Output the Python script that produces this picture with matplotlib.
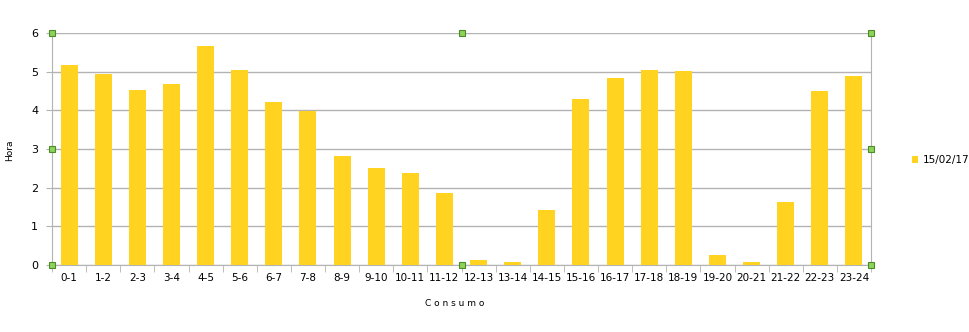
import matplotlib

matplotlib.use("Agg")
import matplotlib.pyplot as plt
import numpy as np

# hourly consumption
categories = ["0-1", "1-2", "2-3", "3-4", "4-5", "5-6", "6-7", "7-8", "8-9", "9-10",
              "10-11", "11-12", "12-13", "13-14", "14-15", "15-16", "16-17", "17-18",
              "18-19", "19-20", "20-21", "21-22", "22-23", "23-24"]
values = [5.17, 4.94, 4.53, 4.69, 5.67, 5.04, 4.22, 3.98, 2.83, 2.52,
          2.38, 1.86, 0.13, 0.08, 1.41, 4.29, 4.83, 5.04, 5.02, 0.26,
          0.08, 1.63, 4.50, 4.88]
series_label = "15/02/17"
y_ticks = [0, 1, 2, 3, 4, 5, 6]

BAR = "#ffd320"
GRID = "#b3b3b3"

fig = plt.figure(figsize=(9.69, 3.32), dpi=100)
ax = fig.add_axes([52 / 969, 1 - 265 / 332, 819 / 969, 232 / 332])

x = np.arange(len(categories))
ax.bar(x, values, width=0.5, color=BAR, zorder=3, label=series_label)

ax.set_xlim(-0.5, len(categories) - 0.5)
ax.set_ylim(0, 6)
ax.set_yticks(y_ticks)
ax.yaxis.grid(True, color=GRID, linewidth=1, zorder=0)
ax.set_xticks(x)
ax.set_xticklabels(categories, fontsize=7.5)
ax.tick_params(axis="x", length=0, pad=6)
ax.tick_params(axis="y", labelsize=8, length=4, color=GRID, pad=6)
# boundary ticks between categories
ax.set_xticks(np.arange(len(categories) + 1) - 0.5, minor=True)
ax.tick_params(axis="x", which="minor", length=5, color=GRID)

for side in ("left", "right", "bottom"):
    ax.spines[side].set_color(GRID)
ax.spines["top"].set_visible(False)

fig.text(10 / 969, 1 - 150 / 332, "Hora", rotation=90, fontsize=6.5,
         ha="center", va="center")
fig.text(455 / 969, 1 - 303 / 332, "C o n s u m o", fontsize=6.5,
         ha="center", va="center")

# selection handles around the plot area
hx = [0, 0.5, 1, 0, 1, 0, 0.5, 1]
hy = [1, 1, 1, 0.5, 0.5, 0, 0, 0]
ax.plot(hx, hy, "s", transform=ax.transAxes, clip_on=False, ms=5,
        mfc="#8cd35a", mec="#4f8a2a", mew=0.8, ls="none", zorder=5)

fig.legend(loc="center left", bbox_to_anchor=(912 / 969, 1 - 160 / 332),
           frameon=False, fontsize=7.5, handlelength=0.6, handleheight=0.6,
           handletextpad=0.4, borderpad=0, borderaxespad=0)

fig.savefig("out.png", dpi=100)
